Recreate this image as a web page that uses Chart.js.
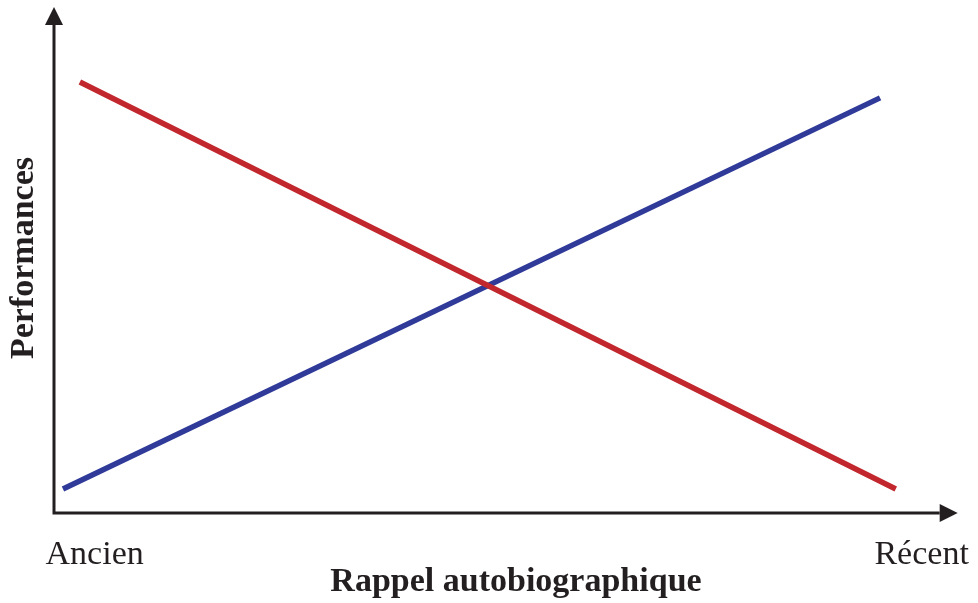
<!DOCTYPE html>
<html>
<head>
<meta charset="utf-8">
<script src="https://cdn.jsdelivr.net/npm/chart.js@4/dist/chart.umd.min.js"></script>
<style>
  html, body { margin: 0; padding: 0; background: #fff; }
</style>
</head>
<body>
<canvas id="chart" width="978" height="603"></canvas>
<script>
// Data (x: 0 = oldest memory, 100 = most recent; y: performance 0..100)
var tickLabels = ["Ancien", "Récent"];
var tickValues = [4.4, 93.9];
var recentX = [0.97, 89.4];     // blue line
var recentY = [4.7, 81.4];
var ancientX = [2.8, 91.1];     // red line
var ancientY = [84.5, 4.7];
var xAxisEnd = 97.8;            // arrow tips
var yAxisEnd = 99.2;

var ink = "#231F20";

function toPoints(xs, ys) {
    return xs.map(function (x, i) { return { x: x, y: ys[i] }; });
}

// axes with arrow heads
var arrowAxes = {
    id: "arrowAxes",
    beforeDatasetsDraw: function (chart) {
        var ctx = chart.ctx,
            xs = chart.scales.x,
            ys = chart.scales.y;
        var x0 = xs.getPixelForValue(0),
            y0 = ys.getPixelForValue(0),
            xEnd = xs.getPixelForValue(xAxisEnd),
            yEnd = ys.getPixelForValue(yAxisEnd);
        var head = 18, half = 9;
        ctx.save();
        ctx.strokeStyle = ink;
        ctx.fillStyle = ink;
        ctx.lineWidth = 3;
        ctx.lineJoin = "miter";
        ctx.beginPath();
        ctx.moveTo(x0, yEnd + head);
        ctx.lineTo(x0, y0);
        ctx.lineTo(xEnd - head, y0);
        ctx.stroke();
        // y arrow
        ctx.beginPath();
        ctx.moveTo(x0, yEnd);
        ctx.lineTo(x0 - half, yEnd + head);
        ctx.lineTo(x0 + half, yEnd + head);
        ctx.closePath();
        ctx.fill();
        // x arrow
        ctx.beginPath();
        ctx.moveTo(xEnd, y0);
        ctx.lineTo(xEnd - head, y0 - half);
        ctx.lineTo(xEnd - head, y0 + half);
        ctx.closePath();
        ctx.fill();
        ctx.restore();
    }
};

new Chart(document.getElementById("chart"), {
    type: "line",
    data: {
        datasets: [{
            label: "Ancien",
            data: toPoints(ancientX, ancientY),
            borderColor: "#C1272D",
            borderWidth: 5.5,
            pointRadius: 0,
            tension: 0
        }, {
            label: "Récent",
            data: toPoints(recentX, recentY),
            borderColor: "#2F3A99",
            borderWidth: 5.5,
            pointRadius: 0,
            tension: 0
        }]
    },
    options: {
        responsive: false,
        animation: false,
        layout: { autoPadding: false, padding: { top: 3, right: 0, left: 0, bottom: 0 } },
        plugins: {
            legend: { display: false },
            tooltip: { enabled: false }
        },
        scales: {
            x: {
                type: "linear",
                min: 0,
                max: 100,
                grid: { display: false, drawTicks: false },
                border: { display: false },
                afterBuildTicks: function (scale) {
                    scale.ticks = tickValues.map(function (v) { return { value: v }; });
                },
                afterFit: function (scale) {
                    scale.height = 90;
                    scale.paddingLeft = 0;
                    scale.paddingRight = 0;
                },
                ticks: {
                    autoSkip: false,
                    maxRotation: 0,
                    padding: 22,
                    color: ink,
                    font: { family: "Liberation Serif", size: 34 },
                    callback: function (value) {
                        var i = tickValues.indexOf(value);
                        return i >= 0 ? tickLabels[i] : "";
                    }
                },
                title: {
                    display: true,
                    text: "Rappel autobiographique",
                    color: ink,
                    padding: { top: 0, bottom: 0 },
                    font: { family: "Liberation Serif", size: 34, weight: "bold" }
                }
            },
            y: {
                min: 0,
                max: 100,
                grid: { display: false, drawTicks: false },
                border: { display: false },
                ticks: { display: false },
                afterFit: function (scale) {
                    scale.width = 54;
                    scale.paddingTop = 0;
                    scale.paddingBottom = 0;
                },
                title: {
                    display: true,
                    text: "Performances",
                    color: ink,
                    padding: { top: 4, bottom: 0 },
                    font: { family: "Liberation Serif", size: 34, weight: "bold" }
                }
            }
        }
    },
    plugins: [arrowAxes]
});
</script>
</body>
</html>
